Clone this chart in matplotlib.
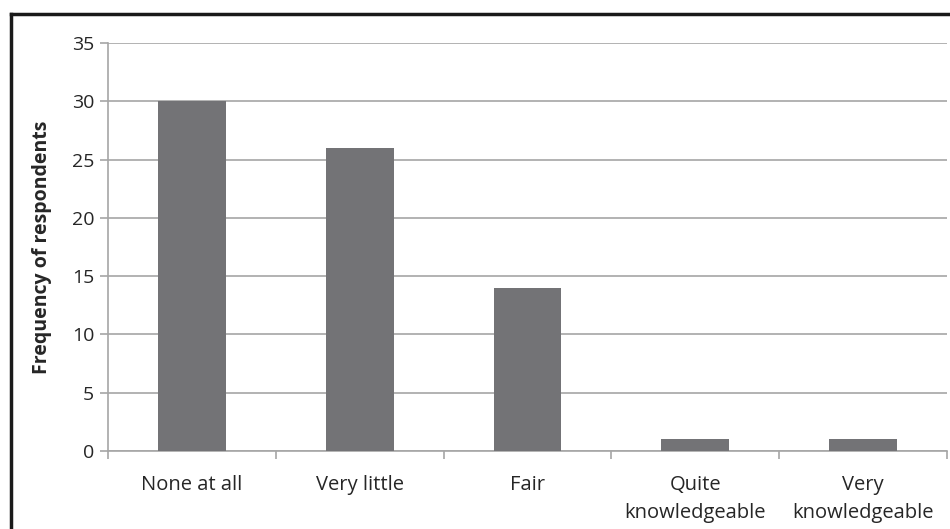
import matplotlib
matplotlib.use("Agg")
import matplotlib.pyplot as plt
from matplotlib.lines import Line2D

categories = ["None at all", "Very little", "Fair", "Quite\nknowledgeable", "Very\nknowledgeable"]
values = [30, 26, 14, 1, 1]
y_ticks = [0, 5, 10, 15, 20, 25, 30, 35]

plt.rcParams['font.family'] = ['Open Sans', 'DejaVu Sans']

W, H = 950, 529
fig = plt.figure(figsize=(W/100, H/100), dpi=100)
ax = fig.add_axes([108/W, 1-451/H, (947-108)/W, (451-43)/H])

x = list(range(len(categories)))
ax.bar(x, values, width=0.405, color="#737376", zorder=3)

ax.set_xlim(-0.5, len(categories)-0.5)
ax.set_ylim(0, 35)
ax.set_yticks(y_ticks)
ax.set_yticklabels([str(t) for t in y_ticks], fontsize=14, color="#262626")
ax.yaxis.grid(True, color="#a6a6a6", linewidth=1.2, zorder=0)
ax.tick_params(axis='y', length=6, width=1.2, color="#a6a6a6", pad=4)

ax.set_xticks([i + 0.5 for i in range(-1, len(categories))], minor=False)
ax.set_xticklabels([])
ax.tick_params(axis='x', which='major', length=6, width=1.2, color="#a6a6a6", direction='out')
ax.set_xticks(x, minor=True)
ax.set_xticklabels(categories, minor=True, fontsize=14.5, color="#262626", linespacing=1.55)
ax.tick_params(axis='x', which='minor', length=0, pad=17)

for s in ['top', 'right']:
    ax.spines[s].set_visible(False)
for s in ['left', 'bottom']:
    ax.spines[s].set_color("#a6a6a6")
    ax.spines[s].set_linewidth(1.2)

ax.set_ylabel("Frequency of respondents", fontsize=14, fontweight='bold', color="#262626", labelpad=14)

# figure border (left and top)
fig.add_artist(Line2D([11/W, 11/W], [0, 1-14/H], transform=fig.transFigure, color="#1a1a1a", linewidth=2.5))
fig.add_artist(Line2D([11/W, 1], [1-14/H, 1-14/H], transform=fig.transFigure, color="#1a1a1a", linewidth=2.5))

fig.savefig("out.png", dpi=100)
